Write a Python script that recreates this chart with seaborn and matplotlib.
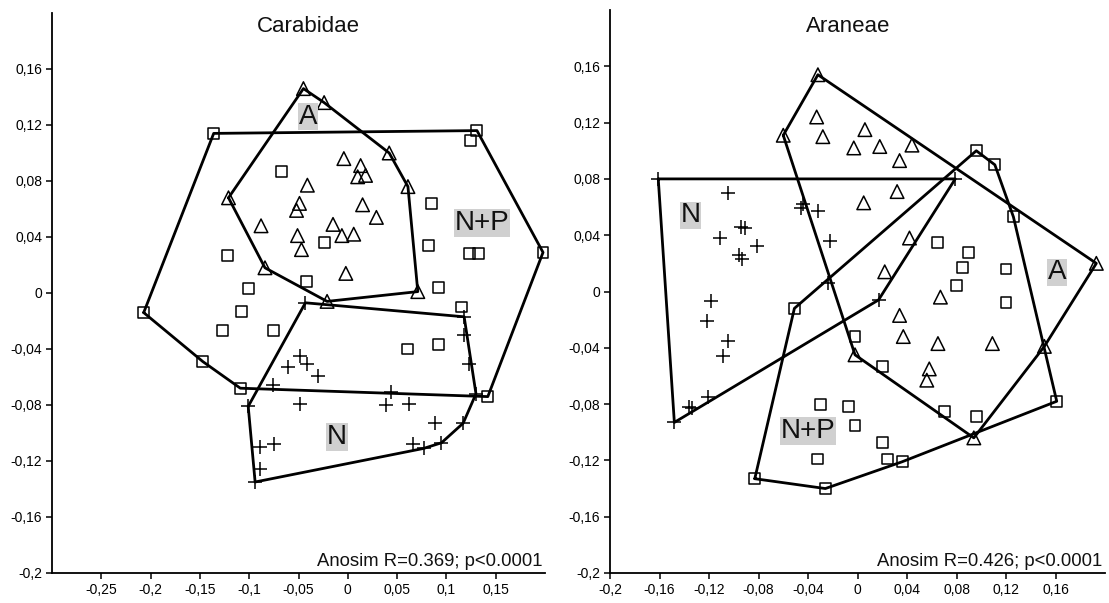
import numpy as np
import pandas as pd
import matplotlib
matplotlib.use("Agg")
import matplotlib.pyplot as plt
import seaborn as sns

# ---------------- Carabidae ----------------
car_np_x = [-0.136, 0.131, 0.124, 0.198, -0.207, -0.147, -0.109, 0.142, -0.067, 0.085,
            -0.122, 0.082, -0.101, -0.108, -0.127, -0.075, -0.042, -0.024, 0.123, 0.133,
            0.092, 0.115, 0.061, 0.092]
car_np_y = [0.114, 0.116, 0.109, 0.029, -0.014, -0.049, -0.068, -0.074, 0.087, 0.064,
            0.027, 0.034, 0.003, -0.013, -0.027, -0.027, 0.008, 0.036, 0.028, 0.028,
            0.004, -0.010, -0.040, -0.037]
car_a_x = [-0.045, -0.024, 0.042, 0.061, 0.071, -0.021, -0.084, -0.121, -0.088, -0.004,
           0.013, 0.010, 0.018, -0.041, -0.049, -0.052, 0.015, 0.029, -0.015, -0.006,
           0.006, -0.051, -0.047, -0.002]
car_a_y = [0.146, 0.136, 0.100, 0.076, 0.001, -0.006, 0.018, 0.068, 0.048, 0.096,
           0.091, 0.083, 0.084, 0.077, 0.064, 0.059, 0.063, 0.054, 0.049, 0.041,
           0.042, 0.041, 0.031, 0.014]
car_n_x = [-0.043, 0.118, 0.118, 0.123, 0.130, 0.117, 0.095, 0.077, 0.066, 0.088,
           0.044, 0.039, 0.062, -0.048, -0.048, -0.041, -0.061, -0.030, -0.076, -0.101,
           -0.075, -0.089, -0.089, -0.094]
car_n_y = [-0.007, -0.017, -0.030, -0.051, -0.072, -0.093, -0.107, -0.111, -0.108, -0.093,
           -0.071, -0.080, -0.079, -0.079, -0.045, -0.051, -0.053, -0.059, -0.066, -0.081,
           -0.108, -0.110, -0.126, -0.135]

# ---------------- Araneae ----------------
ara_np_x = [0.096, 0.111, 0.126, 0.161, -0.026, -0.083, -0.051, 0.065, 0.090, 0.085,
            0.080, 0.120, 0.120, -0.002, 0.020, 0.070, 0.096, -0.030, -0.032, -0.007,
            -0.002, 0.020, 0.024, 0.036]
ara_np_y = [0.100, 0.090, 0.053, -0.078, -0.140, -0.133, -0.012, 0.035, 0.028, 0.017,
            0.004, 0.016, -0.008, -0.032, -0.053, -0.085, -0.089, -0.080, -0.119, -0.082,
            -0.095, -0.107, -0.119, -0.121]
ara_a_x = [-0.032, -0.060, 0.193, 0.151, 0.094, -0.002, -0.033, -0.028, 0.006, -0.003,
           0.018, 0.044, 0.034, 0.032, 0.005, 0.042, 0.022, 0.067, 0.034, 0.037,
           0.065, 0.109, 0.058, 0.056]
ara_a_y = [0.154, 0.111, 0.020, -0.039, -0.104, -0.045, 0.124, 0.110, 0.115, 0.102,
           0.103, 0.104, 0.093, 0.071, 0.063, 0.038, 0.014, -0.004, -0.017, -0.032,
           -0.037, -0.037, -0.055, -0.063]
ara_n_x = [-0.161, 0.079, 0.017, -0.148, -0.105, -0.094, -0.091, -0.111, -0.081, -0.096,
           -0.093, -0.046, -0.032, -0.022, -0.024, -0.118, -0.122, -0.105, -0.109, -0.136,
           -0.134, -0.121, -0.044]
ara_n_y = [0.080, 0.080, -0.006, -0.093, 0.070, 0.046, 0.045, 0.038, 0.032, 0.026,
           0.023, 0.059, 0.057, 0.036, 0.006, -0.007, -0.021, -0.035, -0.046, -0.082,
           -0.083, -0.075, 0.062]

y_ticks = [-0.2, -0.16, -0.12, -0.08, -0.04, 0, 0.04, 0.08, 0.12, 0.16]
y_labels = ["-0,2", "-0,16", "-0,12", "-0,08", "-0,04", "0", "0,04", "0,08", "0,12", "0,16"]
car_x_ticks = [-0.25, -0.2, -0.15, -0.1, -0.05, 0, 0.05, 0.1, 0.15]
car_x_labels = ["-0,25", "-0,2", "-0,15", "-0,1", "-0,05", "0", "0,05", "0,1", "0,15"]
ara_x_ticks = [-0.2, -0.16, -0.12, -0.08, -0.04, 0, 0.04, 0.08, 0.12, 0.16]
ara_x_labels = ["-0,2", "-0,16", "-0,12", "-0,08", "-0,04", "0", "0,04", "0,08", "0,12", "0,16"]

titles = ["Carabidae", "Araneae"]
stats = ["Anosim R=0.369; p<0.0001", "Anosim R=0.426; p<0.0001"]
car_labels = [("A", -0.040, 0.126), ("N+P", 0.136, 0.050), ("N", -0.011, -0.103)]
ara_labels = [("N", -0.135, 0.054), ("A", 0.161, 0.0135), ("N+P", -0.040, -0.099)]

sns.set_style("white")
plt.rcParams["font.family"] = ["Liberation Sans", "DejaVu Sans"]


def convex_hull(xs, ys):
    pts = sorted(set(zip(xs, ys)))

    def cross(o, a, b):
        return (a[0] - o[0]) * (b[1] - o[1]) - (a[1] - o[1]) * (b[0] - o[0])

    lower = []
    for p in pts:
        while len(lower) >= 2 and cross(lower[-2], lower[-1], p) <= 0:
            lower.pop()
        lower.append(p)
    upper = []
    for p in reversed(pts):
        while len(upper) >= 2 and cross(upper[-2], upper[-1], p) <= 0:
            upper.pop()
        upper.append(p)
    h = lower[:-1] + upper[:-1]
    h.append(h[0])
    return np.array(h)


fig = plt.figure(figsize=(11.09, 6.03), dpi=100)
ax1 = fig.add_axes([52 / 1109, 1 - 573 / 603, (545 - 52) / 1109, (573 - 13) / 603])
ax2 = fig.add_axes([610 / 1109, 1 - 573 / 603, (1105 - 610) / 1109, (573 - 10) / 603])

panels = [
    (ax1, (car_np_x, car_np_y), (car_a_x, car_a_y), (car_n_x, car_n_y),
     (-0.30, 0.20), car_x_ticks, car_x_labels, car_labels, 308),
    (ax2, (ara_np_x, ara_np_y), (ara_a_x, ara_a_y), (ara_n_x, ara_n_y),
     (-0.20, 0.20), ara_x_ticks, ara_x_labels, ara_labels, 848),
]

for i, (ax, npp, aa, nn, xlim, xt, xl, labs, tx) in enumerate(panels):
    sns.scatterplot(x=npp[0], y=npp[1], marker="s", s=62, facecolor="none",
                    edgecolor="black", linewidth=1.1, ax=ax, zorder=2, clip_on=False)
    sns.scatterplot(x=aa[0], y=aa[1], marker="^", s=95, facecolor="none",
                    edgecolor="black", linewidth=1.1, ax=ax, zorder=2, clip_on=False)
    sns.scatterplot(x=nn[0], y=nn[1], marker="+", s=115, color="black",
                    linewidth=1.1, ax=ax, zorder=2, clip_on=False)
    for grp in (npp, aa, nn):
        h = convex_hull(grp[0], grp[1])
        ax.plot(h[:, 0], h[:, 1], color="black", lw=2.0, zorder=3,
                solid_joinstyle="round", clip_on=False)
    for txt, lx, ly in labs:
        ax.text(lx, ly, txt, fontsize=20, ha="center", va="center", color="#111111",
                zorder=4, bbox=dict(facecolor="#d0d0d0", edgecolor="none", pad=0.6))
    ax.set_xlim(*xlim)
    ax.set_ylim(-0.2, 0.2)
    ax.set_xticks(xt)
    ax.set_xticklabels(xl)
    ax.set_yticks(y_ticks)
    ax.set_yticklabels(y_labels)
    ax.tick_params(direction="out", length=4, width=1.1, labelsize=10,
                   colors="black", pad=3, left=True, bottom=True)
    for side in ("top", "right"):
        ax.spines[side].set_visible(False)
    for side in ("left", "bottom"):
        ax.spines[side].set_color("black")
        ax.spines[side].set_linewidth(1.3)
    fig.text(tx / 1109, 1 - 27 / 603, titles[i], fontsize=16, ha="center", va="center",
             color="#111111")
    ax.text(0.994, 0.013, stats[i], transform=ax.transAxes, fontsize=13.3,
            ha="right", va="baseline", color="#111111")
    ax.set_xlabel("")
    ax.set_ylabel("")
    ax.set_facecolor("white")

fig.savefig("out.png", dpi=100, facecolor="white")
